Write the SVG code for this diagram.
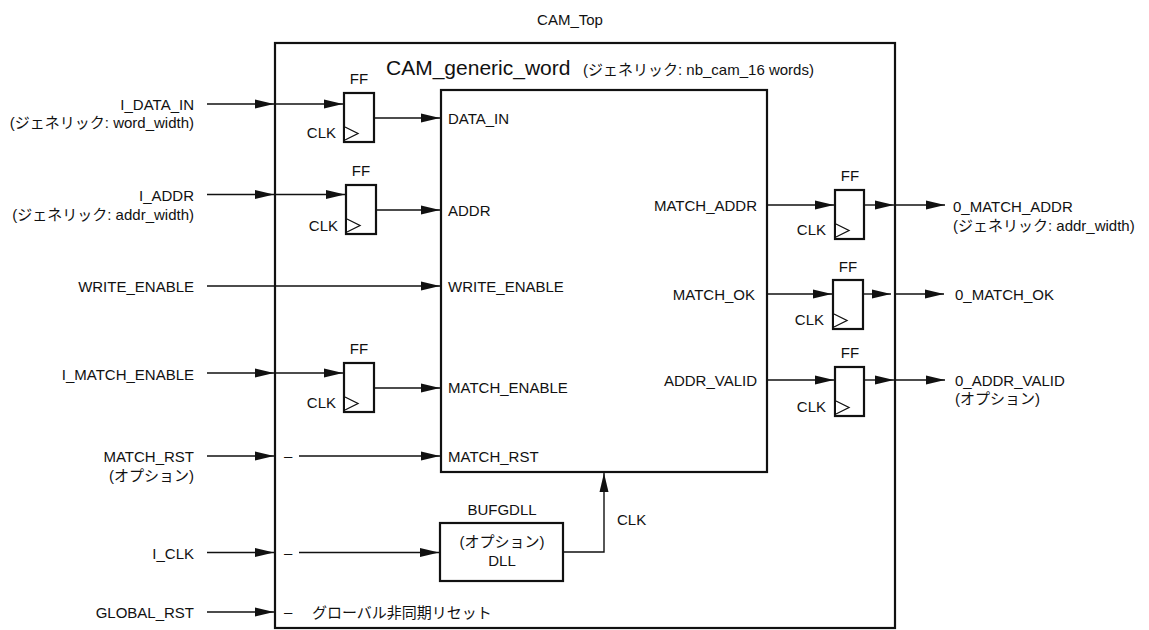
<svg xmlns="http://www.w3.org/2000/svg" width="1149" height="630" viewBox="0 0 1149 630">
<style>
text{font-family:"Liberation Sans","Noto Sans CJK JP",Arial,sans-serif;font-size:15px;fill:#111}
.box{fill:#fff;stroke:#111;stroke-width:2.2}
.ln{fill:none;stroke:#111;stroke-width:1.4}
.arr{marker-end:url(#ah)}
.clk{fill:#fff;stroke:#111;stroke-width:1.3}
.e{text-anchor:end}
.m{text-anchor:middle}
</style>
<defs>
<marker id="ah" markerUnits="userSpaceOnUse" markerWidth="19" markerHeight="10" refX="19" refY="5" orient="auto">
<path d="M0,0.5 L19,5 L0,9.5 z" fill="#111"/>
</marker>
</defs>
<rect width="1149" height="630" fill="#fff"/>

<g id="cam_top">
<rect class="box" x="275" y="43" width="620" height="585"/>
<text class="m" x="570" y="25">CAM_Top</text>
</g>

<g id="cam_generic_word">
<rect class="box" x="441" y="90" width="326" height="382"/>
<text x="386" y="75" style="font-size:21px">CAM_generic_word</text>
<text x="583" y="75">(ジェネリック: nb_cam_16 words)</text>
<text x="448" y="124">DATA_IN</text>
<text x="448" y="216">ADDR</text>
<text x="448" y="292">WRITE_ENABLE</text>
<text x="448" y="393">MATCH_ENABLE</text>
<text x="448" y="462">MATCH_RST</text>
<text class="e" x="757" y="211">MATCH_ADDR</text>
<text class="e" x="755" y="300">MATCH_OK</text>
<text class="e" x="757" y="386">ADDR_VALID</text>
</g>

<g id="ff1">
<rect class="box" x="344" y="93" width="30" height="49"/>
<polyline class="clk" points="345,127 358,133.5 345,140"/>
<text class="m" x="359" y="84">FF</text>
<text class="e" x="336" y="138">CLK</text>
</g>
<g id="ff2">
<rect class="box" x="346" y="185" width="30" height="49"/>
<polyline class="clk" points="347,219 360,225.5 347,232"/>
<text class="m" x="361" y="176">FF</text>
<text class="e" x="338" y="231">CLK</text>
</g>
<g id="ff3">
<rect class="box" x="344" y="363" width="30" height="49"/>
<polyline class="clk" points="345,397 358,403.5 345,410"/>
<text class="m" x="359" y="354">FF</text>
<text class="e" x="336" y="408">CLK</text>
</g>
<g id="ff4">
<rect class="box" x="835" y="190" width="29" height="49"/>
<polyline class="clk" points="836,224 849,230.5 836,237"/>
<text class="m" x="850" y="181">FF</text>
<text class="e" x="826" y="235">CLK</text>
</g>
<g id="ff5">
<rect class="box" x="833" y="280" width="30" height="49"/>
<polyline class="clk" points="834,314 847,320.5 834,327"/>
<text class="m" x="848" y="272">FF</text>
<text class="e" x="824" y="325">CLK</text>
</g>
<g id="ff6">
<rect class="box" x="835" y="367" width="29" height="49"/>
<polyline class="clk" points="836,401 849,407.5 836,414"/>
<text class="m" x="850" y="358">FF</text>
<text class="e" x="826" y="412">CLK</text>
</g>

<g id="bufgdll">
<rect class="box" x="440" y="523" width="123" height="58"/>
<text class="m" x="502" y="515">BUFGDLL</text>
<text class="m" x="502" y="547">(オプション)</text>
<text class="m" x="502" y="566">DLL</text>
</g>

<g id="ports">
<text class="e" x="194" y="110">I_DATA_IN</text>
<text class="e" x="194" y="128">(ジェネリック: word_width)</text>
<text class="e" x="194" y="201">I_ADDR</text>
<text class="e" x="194" y="220">(ジェネリック: addr_width)</text>
<text class="e" x="194" y="292">WRITE_ENABLE</text>
<text class="e" x="194" y="380">I_MATCH_ENABLE</text>
<text class="e" x="194" y="462">MATCH_RST</text>
<text class="e" x="194" y="481">(オプション)</text>
<text class="e" x="194" y="559">I_CLK</text>
<text class="e" x="194" y="618">GLOBAL_RST</text>
<text x="953" y="212">0_MATCH_ADDR</text>
<text x="953" y="231">(ジェネリック: addr_width)</text>
<text x="955" y="300">0_MATCH_OK</text>
<text x="955" y="386">0_ADDR_VALID</text>
<text x="955" y="404">(オプション)</text>
<text x="284" y="461">–</text>
<text x="284" y="558">–</text>
<text x="284" y="617">–</text>
<text x="312" y="618">グローバル非同期リセット</text>
<text x="617" y="525">CLK</text>
</g>

<g id="connectors">
<line class="ln arr" x1="207" y1="104" x2="274" y2="104"/>
<line class="ln arr" x1="276" y1="104" x2="343" y2="104"/>
<line class="ln arr" x1="375" y1="118" x2="440" y2="118"/>
<line class="ln arr" x1="207" y1="194.5" x2="274" y2="194.5"/>
<line class="ln arr" x1="276" y1="194.5" x2="345" y2="194.5"/>
<line class="ln arr" x1="377" y1="210" x2="440" y2="210"/>
<line class="ln arr" x1="207" y1="286" x2="440" y2="286"/>
<line class="ln arr" x1="207" y1="373" x2="274" y2="373"/>
<line class="ln arr" x1="276" y1="373" x2="343" y2="373"/>
<line class="ln arr" x1="375" y1="388" x2="440" y2="388"/>
<line class="ln arr" x1="207" y1="456" x2="274" y2="456"/>
<line class="ln arr" x1="299" y1="456" x2="440" y2="456"/>
<line class="ln arr" x1="207" y1="552.5" x2="274" y2="552.5"/>
<line class="ln arr" x1="299" y1="552.5" x2="439" y2="552.5"/>
<line class="ln arr" x1="207" y1="612" x2="274" y2="612"/>
<polyline class="ln arr" points="563,552 604,552 604,473"/>
<line class="ln arr" x1="768" y1="205" x2="834" y2="205"/>
<line class="ln arr" x1="865" y1="205" x2="894" y2="205"/>
<line class="ln arr" x1="896" y1="205" x2="945" y2="205"/>
<line class="ln arr" x1="768" y1="294" x2="832" y2="294"/>
<line class="ln arr" x1="864" y1="294" x2="891" y2="294"/>
<line class="ln arr" x1="896" y1="294" x2="944" y2="294"/>
<line class="ln arr" x1="768" y1="380" x2="834" y2="380"/>
<line class="ln arr" x1="865" y1="380" x2="894" y2="380"/>
<line class="ln arr" x1="896" y1="380" x2="945" y2="380"/>
</g>
</svg>
